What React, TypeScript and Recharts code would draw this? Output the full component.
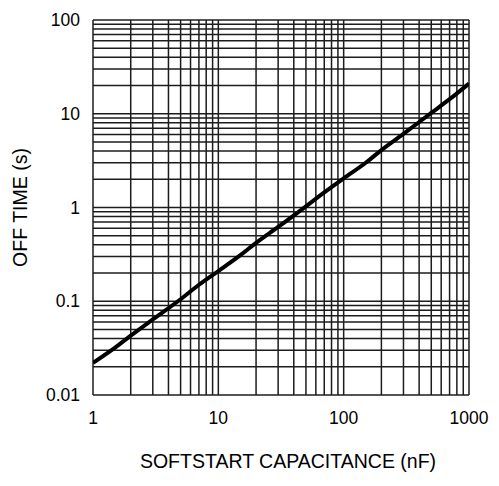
import { LineChart, Line, XAxis, YAxis, ReferenceLine } from 'recharts';

// softstart capacitance (nF) vs off time (s)
const capacitance = [1, 1.5, 2, 3, 5, 7, 10, 15, 20, 30, 50, 70, 100, 150, 200, 300, 500, 700, 1000];
const offTime = [0.022, 0.032, 0.043, 0.064, 0.105, 0.15, 0.21, 0.31, 0.42, 0.62, 1.03, 1.45, 2.05, 3.0, 4.1, 6.1, 10.2, 14.3, 21];

const xTicks = [1, 10, 100, 1000];
const yTicks = [0.01, 0.1, 1, 10, 100];
const steps = [1, 2, 3, 4, 5, 6, 7, 8, 9];

// grid lines at every 1..9 step within each decade, plus the closing edge
const gridFor = (decades: number[]) => [
  ...decades.slice(0, -1).flatMap((d) => steps.map((s) => +(d * s).toPrecision(3))),
  decades[decades.length - 1],
];
const xGrid = gridFor(xTicks);
const yGrid = gridFor(yTicks);

const data = capacitance.map((c, i) => ({ c, t: offTime[i] }));

const FONT = '"Liberation Sans", Arial, sans-serif';
const GRID = '#1c1c1c';
const TICK_SIZE = 17.5;
const TITLE_SIZE = 19.5;

const fmtY = (v: number) => (v < 1 ? String(v) : v.toFixed(0));

export default function App() {
  return (
    <div style={{ position: 'absolute', left: 0, top: 0, background: '#fff' }}>
      <LineChart width={499} height={486} data={data} margin={{ top: 20, right: 30, bottom: 0, left: 0 }}>
        <XAxis
          dataKey="c"
          type="number"
          scale="log"
          domain={[1, 1000]}
          ticks={xTicks}
          allowDataOverflow
          height={91}
          axisLine={false}
          tickLine={false}
          tickSize={0}
          tickMargin={17}
          tick={{ fill: '#000', fontSize: TICK_SIZE, fontFamily: FONT }}
          label={{
            content: (p: any) => {
              const vb = p.viewBox;
              return (
                <text
                  x={vb.x + vb.width / 2 + 7}
                  y={468}
                  textAnchor="middle"
                  fill="#000"
                  fontSize={TITLE_SIZE}
                  fontFamily={FONT}
                >
                  SOFTSTART CAPACITANCE (nF)
                </text>
              );
            },
          }}
        />
        <YAxis
          type="number"
          scale="log"
          domain={[0.01, 100]}
          ticks={yTicks}
          allowDataOverflow
          width={93}
          axisLine={false}
          tickLine={false}
          tickSize={0}
          tickMargin={13}
          tickFormatter={fmtY}
          tick={{ fill: '#000', fontSize: TICK_SIZE, fontFamily: FONT }}
          label={{
            content: (p: any) => {
              const vb = p.viewBox;
              const cy = vb.y + vb.height / 2;
              return (
                <text
                  x={27}
                  y={cy}
                  transform={`rotate(-90, 27, ${cy})`}
                  textAnchor="middle"
                  fill="#000"
                  fontSize={TITLE_SIZE}
                  fontFamily={FONT}
                >
                  OFF TIME (s)
                </text>
              );
            },
          }}
        />
        {xGrid.map((v) => (
          <ReferenceLine key={'x' + v} x={v} stroke={GRID} strokeWidth={1.5} ifOverflow="extendDomain" />
        ))}
        {yGrid.map((v) => (
          <ReferenceLine key={'y' + v} y={v} stroke={GRID} strokeWidth={1.5} ifOverflow="extendDomain" />
        ))}
        <Line
          dataKey="t"
          type="monotone"
          stroke="#000"
          strokeWidth={4}
          dot={false}
          isAnimationActive={false}
        />
      </LineChart>
    </div>
  );
}
